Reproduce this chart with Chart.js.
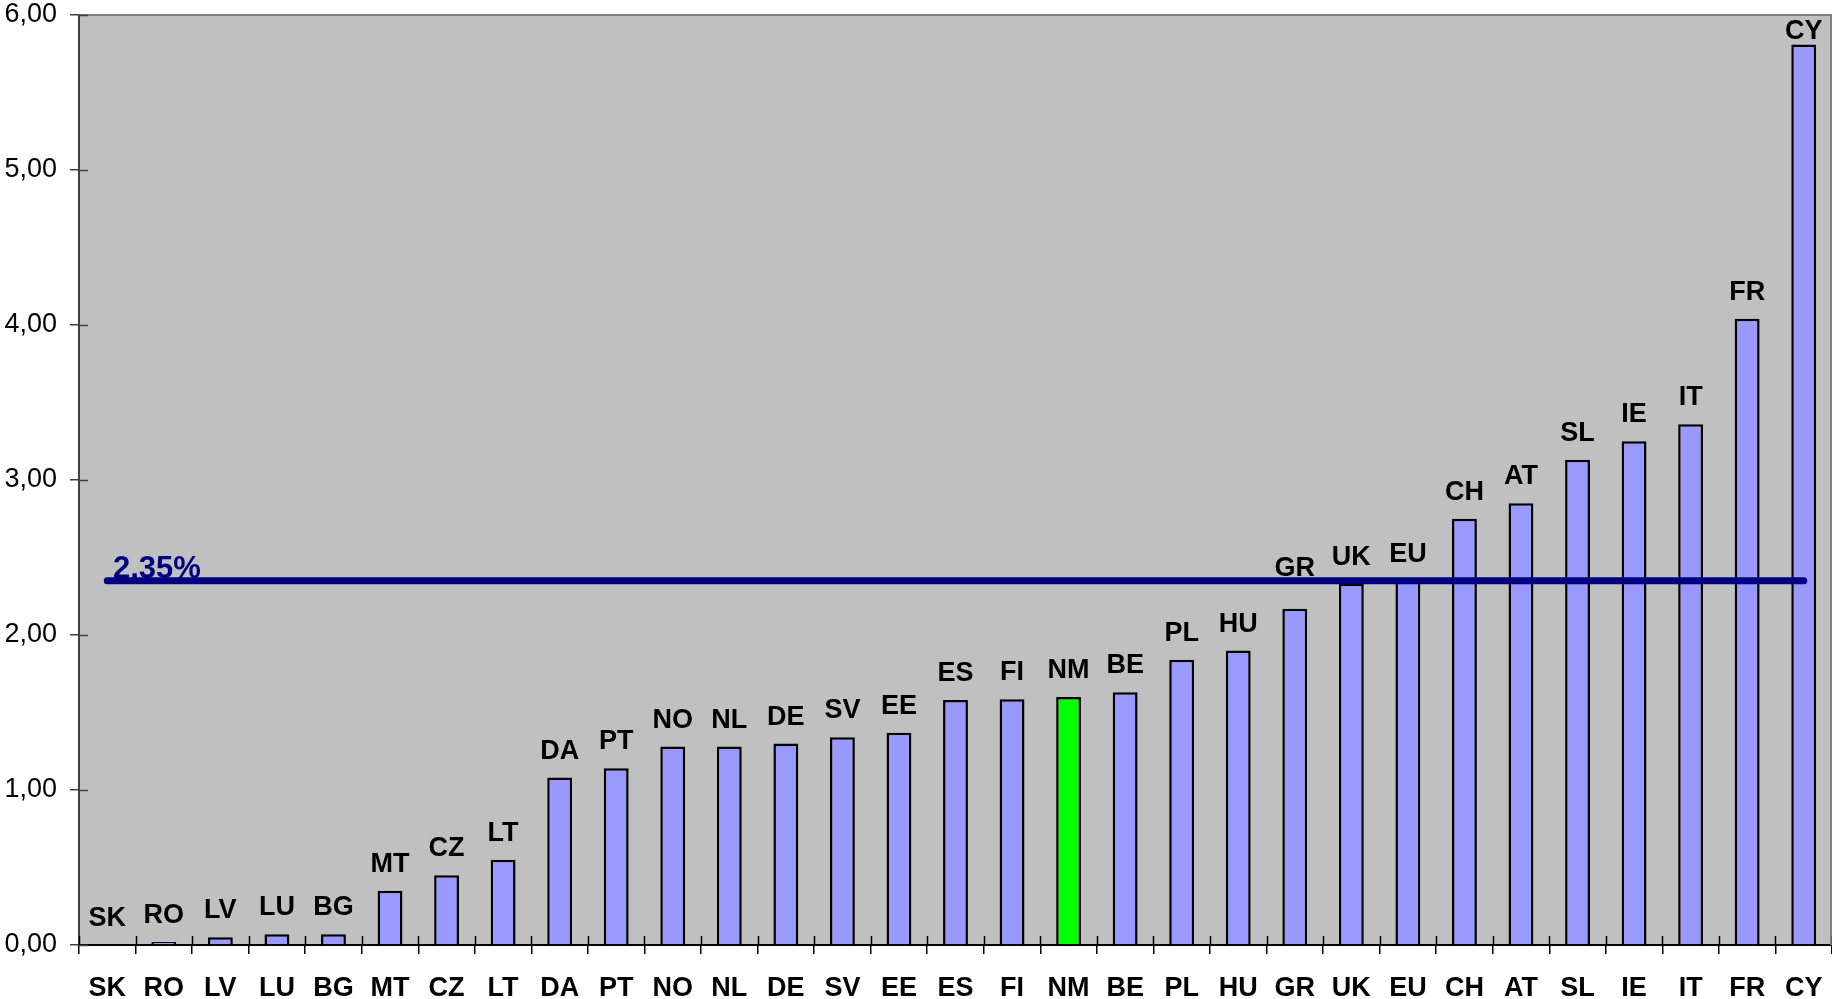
<!DOCTYPE html>
<html>
<head>
<meta charset="utf-8">
<script src="https://cdn.jsdelivr.net/npm/chart.js@4.4.1/dist/chart.umd.min.js"></script>
<style>
    body { margin: 0; background: #ffffff; }
    #chart-wrap { width: 1832px; height: 999px; }
</style>
</head>
<body>
<div id="chart-wrap"><canvas id="bar-laender" width="1832" height="999"></canvas></div>
<script>
var categories = ['SK','RO','LV','LU','BG','MT','CZ','LT','DA','PT','NO','NL','DE','SV','EE','ES','FI','NM','BE','PL','HU','GR','UK','EU','CH','AT','SL','IE','IT','FR','CY'];
var values = [0.00, 0.02, 0.05, 0.07, 0.07, 0.35, 0.45, 0.55, 1.08, 1.14, 1.28, 1.28, 1.30, 1.34, 1.37, 1.58, 1.585, 1.60, 1.63, 1.84, 1.90, 2.17, 2.33, 2.35, 2.75, 2.85, 3.13, 3.25, 3.36, 4.04, 5.81];
var highlight = ['NM'];
var avgValue = 2.35;
var avgLabel = '2,35%';
var avgPoints = [{x: 'SK', y: 2.35}, {x: 'CY', y: 2.35}];
var yTickLabels = ['0,00','1,00','2,00','3,00','4,00','5,00','6,00'];

var fontFamily = '"Liberation Sans", Arial, sans-serif';

// hintergrund + rahmen oben/rechts
const plotArea = {
    id: 'plotArea',
    beforeDraw: (chart) => {
        const {ctx, chartArea: a} = chart;
        ctx.save();
        ctx.fillStyle = '#C0C0C0';
        ctx.fillRect(a.left, a.top, a.right - a.left, a.bottom - a.top);
        ctx.restore();
    },
    afterDraw: (chart) => {
        const {ctx, chartArea: a} = chart;
        ctx.save();
        ctx.strokeStyle = '#808080';
        ctx.lineWidth = 2;
        ctx.beginPath();
        ctx.moveTo(a.left, a.top);
        ctx.lineTo(a.right - 1, a.top);
        ctx.lineTo(a.right - 1, a.bottom);
        ctx.stroke();

        // kleine striche innen
        ctx.strokeStyle = '#404040';
        ctx.lineWidth = 1.5;
        const y = chart.scales.y;
        for (const t of y.ticks) {
            const py = Math.round(y.getPixelForValue(t.value)) + 0.5;
            ctx.beginPath();
            ctx.moveTo(a.left, py);
            ctx.lineTo(a.left + 9, py);
            ctx.stroke();
        }
        const x = chart.scales.x;
        ctx.strokeStyle = '#000000';
        for (let i = 0; i <= categories.length; i++) {
            const px = Math.round(x.getPixelForValue(i) - (x.getPixelForValue(1) - x.getPixelForValue(0)) / 2) + 0.5;
            ctx.beginPath();
            ctx.moveTo(px, a.bottom);
            ctx.lineTo(px, a.bottom - 9);
            ctx.stroke();
        }
        ctx.restore();
    }
};

// laenderkuerzel ueber den balken + label der linie
const barLabels = {
    id: 'barLabels',
    afterDatasetsDraw: (chart) => {
        const {ctx, chartArea: a} = chart;
        const meta = chart.getDatasetMeta(0);
        const yLine = chart.scales.y.getPixelForValue(avgValue);
        ctx.save();
        ctx.fillStyle = '#000000';
        ctx.font = 'bold 27px ' + fontFamily;
        ctx.textAlign = 'center';
        ctx.textBaseline = 'alphabetic';
        meta.data.forEach((el, i) => {
            let yb = el.y - 19;
            // nicht mit der linie ueberlappen
            if (yb > yLine - 4 && yb - 20 < yLine + 4) yb = yLine - 5;
            if (yb < a.top + 24) yb = a.top + 24;
            ctx.fillText(categories[i], el.x, yb);
        });

        ctx.fillStyle = '#000080';
        ctx.font = 'bold 31px ' + fontFamily;
        ctx.textAlign = 'left';
        ctx.fillText(avgLabel, a.left + 34, yLine - 3);
        ctx.restore();
    }
};

new Chart(document.getElementById('bar-laender'), {
    data: {
        labels: categories,
        datasets: [{
            type: 'bar',
            label: 'Anteil',
            data: values,
            backgroundColor: categories.map(c => highlight.includes(c) ? '#00FF00' : '#9999FF'),
            borderColor: '#000000',
            borderWidth: values.map(v => v > 0 ? 2.5 : 0),
            borderSkipped: 'start',
            categoryPercentage: 1.0,
            barPercentage: 0.44,
            order: 1
        }, {
            type: 'line',
            label: 'Durchschnitt',
            data: avgPoints,
            borderColor: '#000080',
            borderWidth: 7,
            borderCapStyle: 'round',
            pointRadius: 0,
            fill: false,
            order: 0
        }]
    },
    options: {
        responsive: false,
        animation: false,
        devicePixelRatio: 1,
        layout: { padding: { top: 15, right: 0, left: 0, bottom: 0 } },
        plugins: {
            legend: { display: false },
            tooltip: { enabled: false },
            title: { display: false }
        },
        scales: {
            x: {
                offset: true,
                grid: {
                    offset: true,
                    drawOnChartArea: false,
                    drawTicks: true,
                    tickLength: 9,
                    color: '#000000',
                    lineWidth: 1.5
                },
                border: { display: true, color: '#000000', width: 2 },
                ticks: {
                    color: '#000000',
                    padding: 18,
                    maxRotation: 0,
                    autoSkip: false,
                    font: { family: fontFamily, size: 27, weight: 'bold' }
                },
                afterFit: (scale) => {
                    scale.height = 54;
                    scale.paddingLeft = 0;
                    scale.paddingRight = 0;
                }
            },
            y: {
                min: 0,
                max: 6,
                ticks: {
                    stepSize: 1,
                    color: '#000000',
                    padding: 13,
                    font: { family: fontFamily, size: 27 },
                    callback: (value) => yTickLabels[value]
                },
                grid: {
                    drawOnChartArea: false,
                    drawTicks: true,
                    tickLength: 9,
                    color: '#404040',
                    lineWidth: 1.5
                },
                border: { display: true, color: '#404040', width: 2 },
                afterFit: (scale) => {
                    scale.width = 79;
                    scale.paddingTop = 0;
                    scale.paddingBottom = 0;
                }
            }
        }
    },
    plugins: [plotArea, barLabels]
});
</script>
</body>
</html>
